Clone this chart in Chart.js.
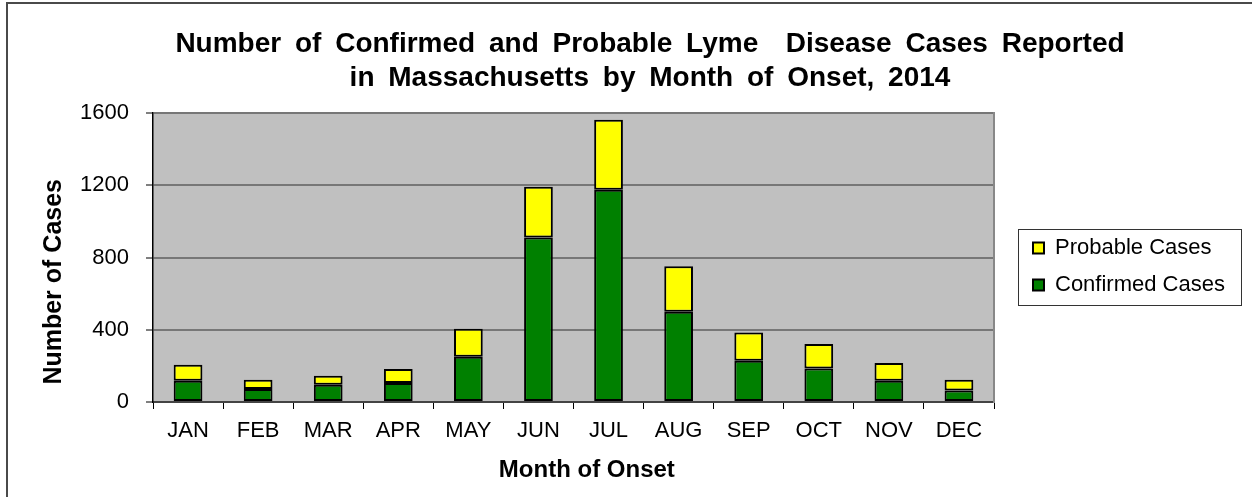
<!DOCTYPE html>
<html><head><meta charset="utf-8">
<script src="https://cdn.jsdelivr.net/npm/chart.js@4.4.1/dist/chart.umd.min.js"></script>
<style>
html,body{margin:0;padding:0;background:#fff;overflow:hidden;width:1252px;height:497px;}
#wrap{position:absolute;left:0;top:0;width:1252px;height:497px;}
#frame{position:absolute;left:6px;top:2px;width:1300px;height:600px;border-top:2px solid #4a4a4a;border-left:2px solid #4a4a4a;pointer-events:none;}
canvas{position:absolute;left:0;top:0;}
</style></head><body>
<div id="wrap"><canvas id="c" width="1252" height="497"></canvas><div id="frame"></div></div>
<script>
// ---- data ----
const months = ['JAN','FEB','MAR','APR','MAY','JUN','JUL','AUG','SEP','OCT','NOV','DEC'];
const confirmed = [118, 72, 96, 105, 251, 911, 1175, 500, 229, 186, 118, 64];
const probable  = [88, 51, 50, 78, 155, 281, 388, 251, 156, 135, 98, 59];
const yTicks = [0, 400, 800, 1200, 1600];
const titleLines = ['Number of Confirmed and Probable Lyme  Disease Cases Reported', 'in Massachusetts by Month of Onset, 2014'];
const seriesNames = ['Confirmed Cases', 'Probable Cases'];
const xTitle = 'Month of Onset';
const yTitle = 'Number of Cases';

// ---- layout helpers ----
const FONT = 'Arial, "Liberation Sans", sans-serif';
const legFontSize = 22, legPad = 15, legBox = 11;
const LEG_LEFT = 1018, TITLE_CX = 650, PLOT_LEFT = 153, GAP = 24, PLOT_BOTTOM = 402, H = 497;
const yTitleSize = 25, yTitleLH = yTitleSize * 1.2;
const xTitleSize = 24, xTitleLH = xTitleSize * 1.2;
let padLeft = 70, padRight = 22;

const plotBg = {
  id: 'plotBg',
  beforeDraw(chart) {
    const {ctx, chartArea: a} = chart;
    ctx.save();
    ctx.fillStyle = '#C0C0C0';
    ctx.fillRect(a.left, a.top, a.right - a.left, a.bottom - a.top);
    ctx.restore();
    const tb = chart.titleBlock;
    if (tb && !tb._wsWrapped) {
      const orig = tb.draw.bind(tb);
      tb.draw = function (area) {
        const c = chart.ctx;
        c.save();
        c.wordSpacing = '6px';
        orig(area);
        c.restore();
      };
      tb._wsWrapped = true;
    }
  }
};
const legendFrame = {
  id: 'legendFrame',
  afterDraw(chart) {
    const hb = chart.legend && chart.legend.legendHitBoxes;
    if (!hb || !hb.length) return;
    const l = Math.min(...hb.map(h => h.left)) - 15;
    const t = Math.min(...hb.map(h => h.top)) - 8;
    const r = Math.max(...hb.map(h => h.left + h.width)) + 16;
    const b = Math.max(...hb.map(h => h.top + h.height)) + 9;
    const ctx = chart.ctx;
    ctx.save();
    ctx.strokeStyle = '#333';
    ctx.lineWidth = 1;
    ctx.strokeRect(Math.round(l) + 0.5, Math.round(t) + 0.5, Math.round(r - l), Math.round(b - t));
    ctx.restore();
  }
};

const common = {
  borderColor: '#000', borderWidth: 2, borderSkipped: false,
  barPercentage: 0.41, categoryPercentage: 1.0, stack: 's'
};

const chart = new Chart(document.getElementById('c'), {
  type: 'bar',
  data: {
    labels: months,
    datasets: [
      Object.assign({}, common, {label: seriesNames[0], data: confirmed, backgroundColor: '#008000'}),
      Object.assign({}, common, {label: seriesNames[1], data: probable, backgroundColor: '#FFFF00'})
    ]
  },
  options: {
    responsive: false,
    animation: false,
    devicePixelRatio: 1,
    layout: {padding: {left: padLeft, right: padRight, top: 0, bottom: 0}},
    plugins: {
      title: {
        display: true, text: titleLines, color: '#000',
        font: {family: FONT, size: 28, weight: 'bold', lineHeight: 34 / 28},
        padding: {top: 27, bottom: 18}
      },
      legend: {
        display: true, position: 'right', reverse: true, fullSize: false, maxWidth: 400,
        title: {display: true, text: '', padding: 0, font: {size: 15}},
        labels: {
          color: '#000', boxWidth: legBox, boxHeight: legBox, padding: legPad,
          font: {family: FONT, size: legFontSize}
        }
      },
      tooltip: {enabled: false}
    },
    scales: {
      x: {
        stacked: true,
        offset: true,
        grid: {offset: true, drawOnChartArea: false, drawTicks: true, tickLength: 7, tickColor: '#000', tickWidth: 1},
        border: {display: true, color: '#444', width: 2},
        ticks: {color: '#000', font: {family: FONT, size: 22}, padding: 9, maxRotation: 0, autoSkip: false},
        title: {display: true, text: '    ' + xTitle, color: '#000', font: {family: FONT, size: xTitleSize, weight: 'bold'},
                padding: {top: 0, bottom: H - 470 - xTitleLH / 2}},
        afterFit(s) { s.height = H - PLOT_BOTTOM; }
      },
      y: {
        stacked: true,
        min: yTicks[0], max: yTicks[yTicks.length - 1],
        afterBuildTicks(s) { s.ticks = yTicks.map(v => ({value: v})); },
        grid: {color: '#777', lineWidth: 2, drawTicks: true, tickLength: 7, tickColor: '#000', tickWidth: 1},
        border: {display: true, color: '#000', width: 1.5},
        ticks: {color: '#000', font: {family: FONT, size: 22}, padding: 17, callback: v => String(v)},
        title: {display: true, text: yTitle + '       ', color: '#000', font: {family: FONT, size: yTitleSize, weight: 'bold'},
                padding: {top: 54 - padLeft - yTitleLH / 2, bottom: 0}},
        afterFit(s) { s.width = PLOT_LEFT - padLeft; }
      },
      yR: {
        type: 'linear', position: 'right', display: true,
        grid: {display: false, drawTicks: false},
        border: {display: true, color: '#888', width: 2},
        ticks: {display: false},
        afterFit(s) { s.width = GAP; }
      }
    }
  },
  plugins: [plotBg, legendFrame]
});

// second pass: place the legend and centre the title using the measured legend width
const lw = chart.legend.width;
padLeft = 2 * TITLE_CX - LEG_LEFT - lw;
padRight = 1252 - LEG_LEFT - lw;
chart.options.layout.padding = {left: padLeft, right: padRight, top: 0, bottom: 0};
chart.options.scales.y.title.padding = {top: 54 - padLeft - yTitleLH / 2, bottom: 0};
chart.update();
</script>
</body></html>
